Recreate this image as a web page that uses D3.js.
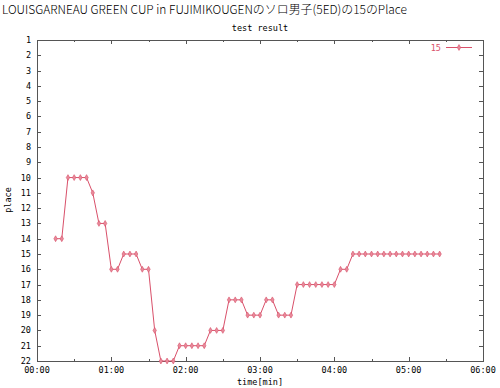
<!DOCTYPE html>
<html lang="ja">
<head>
  <meta charset="utf-8">
  <title>test result</title>
  <script src="https://cdnjs.cloudflare.com/ajax/libs/d3/7.8.5/d3.min.js"></script>
  <style>
    body { margin: 0; background: #fff; }
    .lbl { font-family: "DejaVu Sans Mono", monospace; font-size: 8.5px; fill: #000; }
  </style>
</head>
<body>
  <div class="chart"></div>

  <script type="text/javascript">
    var heading = "LOUISGARNEAU GREEN CUP in FUJIMIKOUGENのソロ男子(5ED)の15のPlace";
    var seriesName = "15";

    // elapsed time in minutes
    var times = [15, 20, 25, 30, 35, 40, 45, 50, 55, 60,
                 65, 70, 75, 80, 85, 90, 95, 100, 105, 110,
                 115, 120, 125, 130, 135, 140, 145, 150, 155, 160,
                 165, 170, 175, 180, 185, 190, 195, 200, 205, 210,
                 215, 220, 225, 230, 235, 240, 245, 250, 255, 260,
                 265, 270, 275, 280, 285, 290, 295, 300, 305, 310,
                 315, 320, 325];
    var places = [14, 14, 10, 10, 10, 10, 11, 13, 13, 16,
                  16, 15, 15, 15, 16, 16, 20, 22, 22, 22,
                  21, 21, 21, 21, 21, 20, 20, 20, 18, 18,
                  18, 19, 19, 19, 18, 18, 19, 19, 19, 17,
                  17, 17, 17, 17, 17, 17, 16, 16, 15, 15,
                  15, 15, 15, 15, 15, 15, 15, 15, 15, 15,
                  15, 15, 15];

    var xTicks = [0, 60, 120, 180, 240, 300, 360];
    var xTickLabels = ["00:00", "01:00", "02:00", "03:00", "04:00", "05:00", "06:00"];
    var xMinor = [30, 90, 150, 210, 270, 330];
    var yTicks = d3.range(1, 23);

    var W = 500, H = 388,
        m = {top: 40, right: 17, bottom: 27, left: 37};
    var lineColor = "#d9506a";

    var svg = d3.select(".chart").append("svg")
      .attr("width", W)
      .attr("height", H);

    var x = d3.scaleLinear().domain([0, 360]).range([m.left, W - m.right]);
    var y = d3.scaleLinear().domain([1, 22]).range([m.top, H - m.bottom]);

    svg.append("text")
      .attr("x", 2)
      .attr("y", 14)
      .attr("textLength", 405)
      .attr("lengthAdjust", "spacingAndGlyphs")
      .style("font-family", "'Noto Sans CJK JP', 'Noto Sans', sans-serif")
      .style("font-size", "12px")
      .style("font-weight", 300)
      .text(heading);

    svg.append("text")
      .attr("class", "lbl")
      .attr("x", x(180))
      .attr("y", 31)
      .attr("text-anchor", "middle")
      .text("test result");

    // frame
    svg.append("rect")
      .attr("x", x(0) + 0.5)
      .attr("y", y(1) + 0.5)
      .attr("width", x(360) - x(0))
      .attr("height", y(22) - y(1))
      .style("fill", "none")
      .style("stroke", "#555")
      .style("stroke-width", 1);

    // y ticks both sides, inward
    var gy = svg.append("g");
    yTicks.forEach(function(t){
      var yy = Math.round(y(t)) + 0.5;
      gy.append("line").attr("x1", x(0)).attr("x2", x(0) + 4).attr("y1", yy).attr("y2", yy)
        .style("stroke", "#555");
      gy.append("line").attr("x1", x(360)).attr("x2", x(360) - 4).attr("y1", yy).attr("y2", yy)
        .style("stroke", "#555");
      gy.append("text").attr("class", "lbl")
        .attr("x", 31).attr("y", y(t) + 3)
        .attr("text-anchor", "end")
        .text(t);
    });

    // x ticks top and bottom
    var gx = svg.append("g");
    xTicks.forEach(function(t, i){
      var xx = Math.round(x(t)) + 0.5;
      gx.append("line").attr("x1", xx).attr("x2", xx).attr("y1", y(22)).attr("y2", y(22) - 4)
        .style("stroke", "#555");
      gx.append("line").attr("x1", xx).attr("x2", xx).attr("y1", y(1)).attr("y2", y(1) + 4)
        .style("stroke", "#555");
      gx.append("text").attr("class", "lbl")
        .attr("x", x(t)).attr("y", 373)
        .attr("text-anchor", "middle")
        .text(xTickLabels[i]);
    });
    xMinor.forEach(function(t){
      var xx = Math.round(x(t)) + 0.5;
      gx.append("line").attr("x1", xx).attr("x2", xx).attr("y1", y(22)).attr("y2", y(22) - 2)
        .style("stroke", "#555");
      gx.append("line").attr("x1", xx).attr("x2", xx).attr("y1", y(1)).attr("y2", y(1) + 2)
        .style("stroke", "#555");
    });

    svg.append("text").attr("class", "lbl")
      .attr("x", x(180)).attr("y", 385)
      .attr("text-anchor", "middle")
      .text("time[min]");

    svg.append("text").attr("class", "lbl")
      .attr("transform", "translate(11,200) rotate(-90)")
      .attr("text-anchor", "middle")
      .text("place");

    // series
    var data = times.map(function(t, i){ return {t: t, p: places[i]}; });
    var line = d3.line().x(function(d){ return x(d.t); }).y(function(d){ return y(d.p); });

    svg.append("path")
      .datum(data)
      .attr("d", line)
      .style("fill", "none")
      .style("stroke", lineColor)
      .style("stroke-width", 1);

    var sym = d3.symbol().type(d3.symbolDiamond).size(10);
    svg.selectAll(".pt")
      .data(data)
      .enter().append("path")
      .attr("class", "pt")
      .attr("transform", function(d){ return "translate(" + x(d.t) + "," + y(d.p) + ")"; })
      .attr("d", sym)
      .style("fill", "#e88a9a")
      .style("stroke", lineColor)
      .style("stroke-width", 0.6);

    // legend
    svg.append("text").attr("class", "lbl")
      .attr("x", 441).attr("y", 51)
      .attr("text-anchor", "end")
      .style("fill", lineColor)
      .text(seriesName);
    svg.append("line")
      .attr("x1", 446).attr("x2", 472).attr("y1", 47.5).attr("y2", 47.5)
      .style("stroke", lineColor);
    svg.append("path")
      .attr("transform", "translate(459,47.5)")
      .attr("d", sym)
      .style("fill", "#e88a9a")
      .style("stroke", lineColor)
      .style("stroke-width", 0.6);
  </script>
</body>
</html>
